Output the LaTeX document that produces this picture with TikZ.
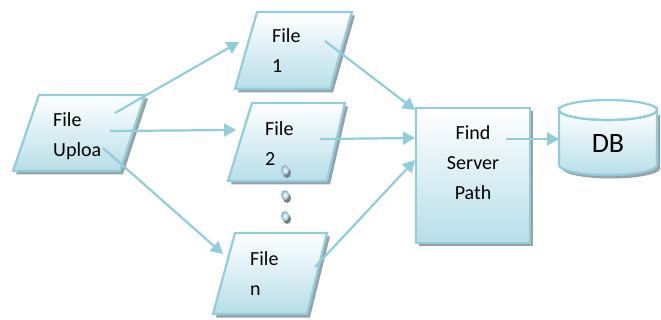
\documentclass[tikz,border=0pt]{standalone}
\usepackage{fontspec}
\setmainfont{Carlito}
\usetikzlibrary{arrows.meta,shadows}
\definecolor{lineblue}{RGB}{146,205,220}
\definecolor{fillblue}{RGB}{183,222,232}
\definecolor{shadegray}{RGB}{150,162,167}
\tikzset{
  filebox/.style={draw=lineblue, line width=2.2pt, top color=white, bottom color=fillblue,
    drop shadow={shadow xshift=3pt, shadow yshift=-3.5pt, fill=shadegray, opacity=1}},
  flow/.style={draw=lineblue, line width=2.2pt, -{Triangle[length=12pt,width=13pt]}},
  lbl/.style={font=\fontsize{20}{30}\selectfont, align=left, anchor=base west, inner sep=0pt}
}

\begin{document}
\begin{tikzpicture}[x=1pt,y=-1pt]
\useasboundingbox (0,0) rectangle (661,320);

% the boxes
\filldraw[filebox] (39,95) -- (145,95) -- (120,171) -- (13,171) -- cycle;
\filldraw[filebox] (257,12) -- (352,12) -- (330,89) -- (235,89) -- cycle;
\filldraw[filebox] (252,103) -- (345,103) -- (327,181) -- (228,181) -- cycle;
\filldraw[filebox] (235,233) -- (327,233) -- (307,314) -- (213,314) -- cycle;
\filldraw[filebox] (416,108) rectangle (530,243);

% database
\filldraw[filebox] (559,110) -- (559,165) arc[start angle=180, end angle=0, x radius=49, y radius=10]
  -- (657,110) arc[start angle=0, end angle=180, x radius=49, y radius=10] -- cycle;
\draw[lineblue, line width=2.2pt] (608,110) ellipse [x radius=49, y radius=10];

% dots between file 2 and file n
\foreach \y in {170,195,216}
{
\fill[shadegray!80!black] (287,\y+3) ellipse [x radius=4, y radius=5];
\shade[inner color=white, outer color=lineblue!90!black] (285,\y) ellipse [x radius=4, y radius=5];
}

% base anchor sits on the last line
\node[lbl] (upload) at (53,157) {File\\Uploa};
\node[lbl] (file1) at (272,73) {File\\1};
\node[lbl] (file2) at (265,166) {File\\2};
\node[lbl] (filen) at (250,295) {File\\n};
\node[lbl, align=center, anchor=base] (find) at (473,200) {Find\\Server\\Path};
\node[font=\fontsize{28}{34}\selectfont, anchor=base, inner sep=0pt] (db) at (608,153) {DB};

% arrow ends
\coordinate (up-a) at (115,113);
\coordinate (up-b) at (110,131);
\coordinate (up-c) at (103,148);
\coordinate (in1) at (239,42);
\coordinate (in2) at (236,130);
\coordinate (inn) at (223,254);
\coordinate (out1) at (325,41);
\coordinate (out2) at (320,139);
\coordinate (outn) at (315,267);
\coordinate (find1) at (415,110);
\coordinate (find2) at (415,138);
\coordinate (findn) at (415,160);
\coordinate (findout) at (506,139);
\coordinate (dbin) at (559,139);

\draw[flow] (up-a) -- (in1);
\draw[flow] (up-b) -- (in2);
\draw[flow] (up-c) -- (inn);
\draw[flow] (out1) -- (find1);
\draw[flow] (out2) -- (find2);
\draw[flow] (outn) -- (findn);
\draw[flow] (findout) -- (dbin);

\end{tikzpicture}
\end{document}
